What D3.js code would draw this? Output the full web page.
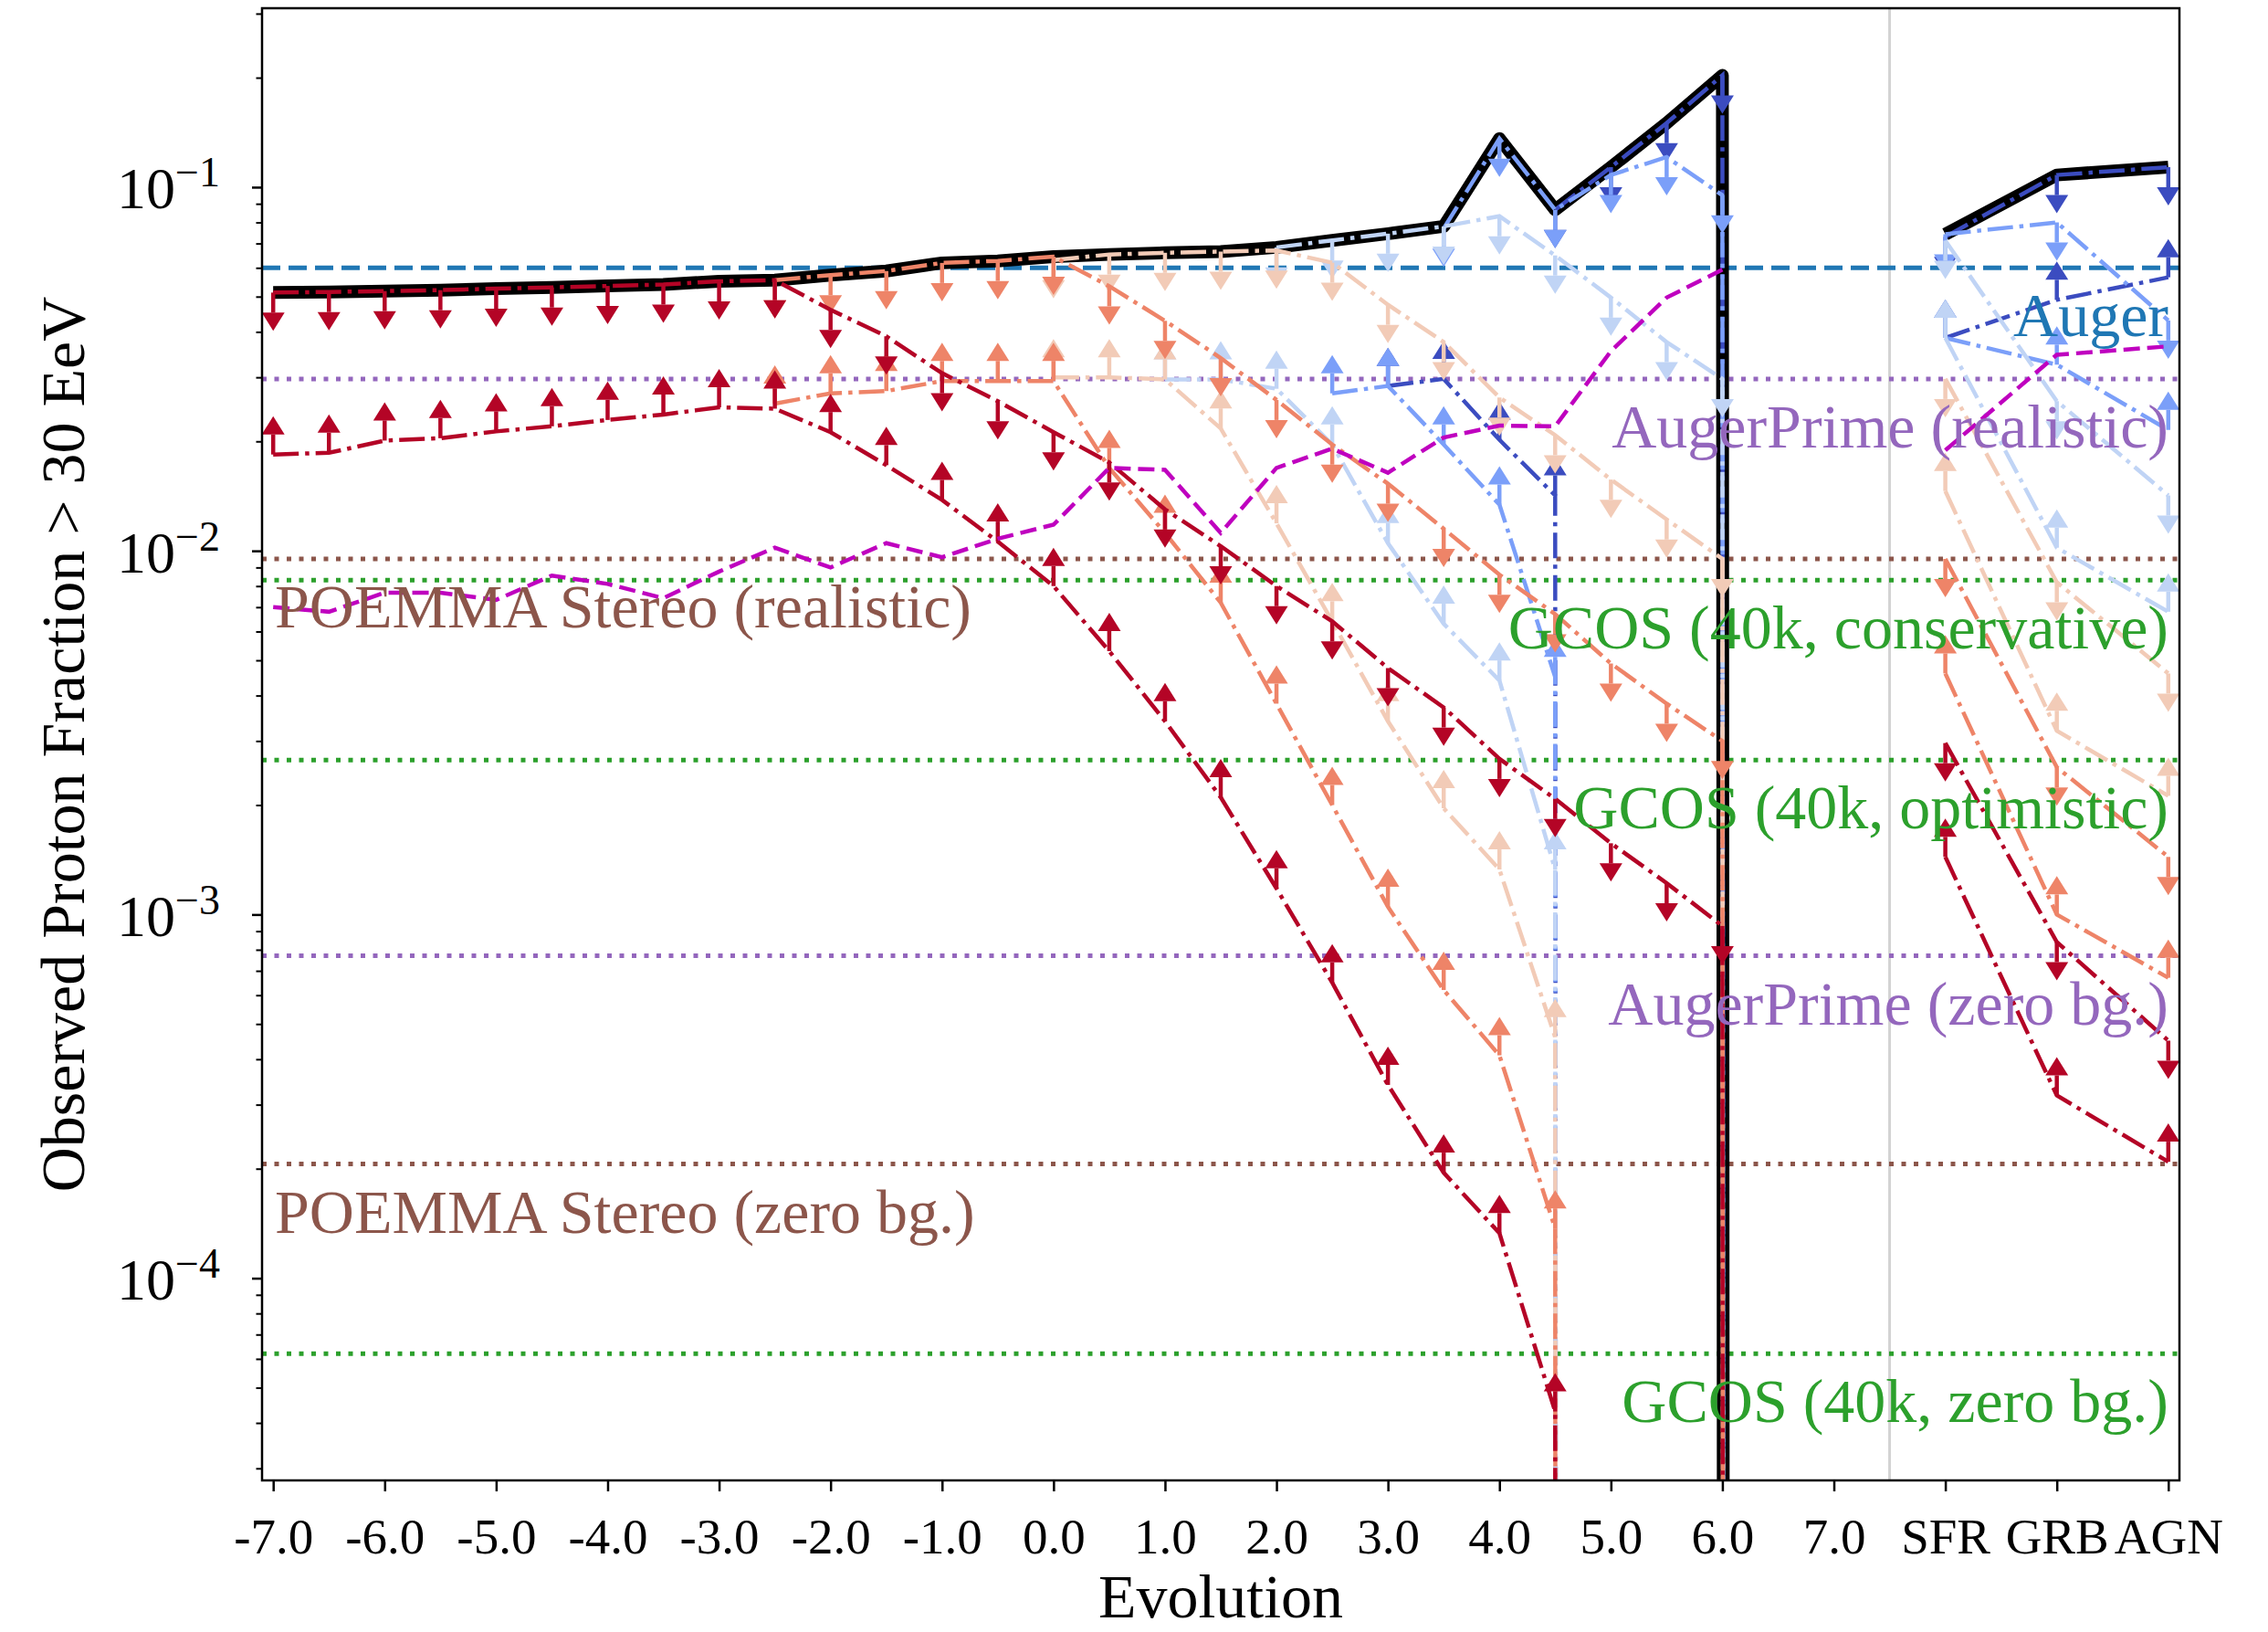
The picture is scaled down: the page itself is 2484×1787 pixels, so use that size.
<!DOCTYPE html>
<html>
<head>
<meta charset="utf-8">
<script src="https://cdn.jsdelivr.net/npm/d3@7"></script>
<style>
  html, body { margin: 0; padding: 0; background: #fff; }
  svg { display: block; font-family: "Liberation Serif", "DejaVu Serif", serif; }
</style>
</head>
<body>
<svg id="chart" width="2484" height="1787"></svg>
<script>
// ---- data ----
const evolution = [-7.0, -6.5, -6.0, -5.5, -5.0, -4.5, -4.0, -3.5, -3.0, -2.5, -2.0, -1.5, -1.0, -0.5, 0.0,
  0.5, 1.0, 1.5, 2.0, 2.5, 3.0, 3.5, 4.0, 4.5, 5.0, 5.5, 6.0, 6.5, 7.0];
const sources = ['SFR', 'GRB', 'AGN'];
const tickValues = [-7, -6, -5, -4, -3, -2, -1, 0, 1, 2, 3, 4, 5, 6, 7];
const tickLabels = ['-7.0', '-6.0', '-5.0', '-4.0', '-3.0', '-2.0', '-1.0', '0.0', '1.0', '2.0', '3.0', '4.0', '5.0', '6.0', '7.0'];

// upper limits (down arrows) / lower limits (up arrows), 0 = vanishes
const redUpper = [0.0513, 0.0515, 0.0518, 0.0521, 0.0526, 0.0530, 0.0535, 0.0540, 0.0551, 0.0555, 0.0460, 0.0389, 0.0308, 0.0258, 0.0212,
  0.0175, 0.0130, 0.0103, 0.0080, 0.0064, 0.00476, 0.00371, 0.00268, 0.00208, 0.00157, 0.00122, 0.00093, 0, 0];
const redLower = [0.0184, 0.0186, 0.0201, 0.0204, 0.0213, 0.0220, 0.0229, 0.0237, 0.0248, 0.0246, 0.0212, 0.0172, 0.0138, 0.0106, 0.0080,
  0.0053, 0.0034, 0.0021, 0.00118, 0.00065, 0.00034, 0.000195, 0.000133, 0.000043, 0, 0, 0, 0, 0];
const salmonUpper = [null, null, null, null, null, null, null, null, null, 0.0555, 0.0573, 0.0588, 0.0619, 0.0627, 0.0644,
  0.0534, 0.0429, 0.0339, 0.0260, 0.0196, 0.0153, 0.0115, 0.0086, 0.0067, 0.0049, 0.0038, 0.0030, 0, 0];
const salmonLower = [null, null, null, null, null, null, null, null, null, 0.0254, 0.0271, 0.0275, 0.0293, 0.0293, 0.0293,
  0.0169, 0.0112, 0.0072, 0.0038, 0.0020, 0.00105, 0.00062, 0.00041, 0.000137, 0, 0, 0, 0, 0];
const peachUpper = [null, null, null, null, null, null, null, null, null, null, null, null, null, null, 0.0630,
  0.0653, 0.0660, 0.0665, 0.0670, 0.0620, 0.0475, 0.0375, 0.0264, 0.0208, 0.0157, 0.0122, 0.0095, 0, 0];
const peachLower = [null, null, null, null, null, null, null, null, null, null, null, null, null, null, 0.0300,
  0.0300, 0.0296, 0.0217, 0.0119, 0.0064, 0.0034, 0.00196, 0.00133, 0.00046, 0, 0, 0, 0, 0];
const lightUpper = [null, null, null, null, null, null, null, null, null, null, null, null, null, null, null,
  null, null, null, 0.0683, 0.0714, 0.0745, 0.0780, 0.0832, 0.0649, 0.0497, 0.0375, 0.0297, 0, 0];
const lightLower = [null, null, null, null, null, null, null, null, null, null, null, null, null, null, null,
  null, 0.0296, 0.0296, 0.0279, 0.0196, 0.0105, 0.0063, 0.0044, 0.00133, 0, 0, 0, 0, 0];
const mediumUpper = [null, null, null, null, null, null, null, null, null, null, null, null, null, null, null,
  null, null, null, null, null, null, 0.0770, 0.1360, 0.0866, 0.1080, 0.1210, 0.0950, 0, 0];
const mediumLower = [null, null, null, null, null, null, null, null, null, null, null, null, null, null, null,
  null, null, null, null, 0.0271, 0.0284, 0.0196, 0.0134, 0.0045, 0, 0, 0, 0, 0];
const darkUpper = [null, null, null, null, null, null, null, null, null, null, null, null, null, null, null,
  null, null, null, null, null, null, null, null, 0.0866, 0.1135, 0.1500, 0.2030, 0, 0];
const darkLower = [null, null, null, null, null, null, null, null, null, null, null, null, null, null, null,
  null, null, null, null, null, 0.0284, 0.0297, 0.0202, 0.0142, 0, 0, 0, 0, 0];
const magentaLine = [0.0070, 0.0068, 0.00767, 0.00767, 0.00733, 0.00855, 0.00811, 0.00741, 0.00877, 0.0102, 0.0090, 0.0105, 0.0096, 0.0108, 0.0118,
  0.0169, 0.0167, 0.0112, 0.0169, 0.0191, 0.0164, 0.0205, 0.0221, 0.0220, 0.0354, 0.0497, 0.0593, null, null];

// SFR, GRB, AGN
const redUpperSrc = [0.00296, 0.00084, 0.00045];
const redLowerSrc = [0.00144, 0.000318, 0.000209];
const salmonUpperSrc = [0.0095, 0.00254, 0.00144];
const salmonLowerSrc = [0.0046, 0.0010, 0.00067];
const peachUpperSrc = [0.0297, 0.0082, 0.0046];
const peachLowerSrc = [0.0146, 0.0032, 0.00212];
const lightUpperSrc = [0.0713, 0.0258, 0.0142];
const lightLowerSrc = [0.0385, 0.0102, 0.0068];
const mediumUpperSrc = [0.0742, 0.0800, 0.0430];
const mediumLowerSrc = [0.0385, 0.0325, 0.0215];
const darkUpperSrc = [0.0730, 0.1080, 0.1135];
const darkLowerSrc = [0.0385, 0.0490, 0.0565];
const magentaSrc = [0.0189, 0.0346, 0.0365];

// experimental sensitivities
const refLabels = ['Auger', 'AugerPrime (realistic)', 'POEMMA Stereo (realistic)', 'GCOS (40k, conservative)',
  'GCOS (40k, optimistic)', 'AugerPrime (zero bg.)', 'POEMMA Stereo (zero bg.)', 'GCOS (40k, zero bg.)'];
const refValues = [0.060, 0.0297, 0.0095, 0.0083, 0.00266, 0.00077, 0.000206, 0.000062];

// ---- layout & style ----
const W = 2484, H = 1787;
const margin = { top: 9, right: 97, bottom: 166, left: 287 };
const width = W - margin.left - margin.right;
const height = H - margin.top - margin.bottom;
const sourceSlot = 8;     // SFR sits one unit right of 7.0
const separator = 7.5;

const expStyle = {
  Auger: { color: '#1f77b4', dash: '20 9', width: 5, left: false },
  AugerPrime: { color: '#9467bd', dash: '5 8.5', width: 5, left: false },
  POEMMA: { color: '#8c564b', dash: '5 8.5', width: 5, left: true },
  GCOS: { color: '#2ca02c', dash: '5 8.5', width: 5, left: false }
};

// drawn blue first, red last
const groups = [
  { color: '#3b4cc0', upper: darkUpper, lower: darkLower, upperSrc: darkUpperSrc, lowerSrc: darkLowerSrc },
  { color: '#7b9ff9', upper: mediumUpper, lower: mediumLower, upperSrc: mediumUpperSrc, lowerSrc: mediumLowerSrc },
  { color: '#c0d4f5', upper: lightUpper, lower: lightLower, upperSrc: lightUpperSrc, lowerSrc: lightLowerSrc },
  { color: '#f2cbb7', upper: peachUpper, lower: peachLower, upperSrc: peachUpperSrc, lowerSrc: peachLowerSrc },
  { color: '#ee8468', upper: salmonUpper, lower: salmonLower, upperSrc: salmonUpperSrc, lowerSrc: salmonLowerSrc },
  { color: '#b40426', upper: redUpper, lower: redLower, upperSrc: redUpperSrc, lowerSrc: redLowerSrc }
];

const svg = d3.select('#chart');
const g = svg.append('g').attr('transform', `translate(${margin.left},${margin.top})`);

g.append('clipPath').attr('id', 'plot-clip')
  .append('rect').attr('width', width).attr('height', height);

// Scales
const x = d3.scaleLinear().domain([-7.1, 10.1]).range([0, width]);
const y = d3.scaleLog().domain([Math.pow(10, -4.556), Math.pow(10, -0.508)]).range([height, 0]);

const line = d3.line()
  .defined(d => d.v !== null)
  .x(d => d.px)
  .y(d => d.v > 0 ? y(d.v) : height + 1e5);

const mainPts = arr => evolution.map((e, i) => ({ px: x(e), v: arr[i] }));
const srcPts = arr => sources.map((s, i) => ({ px: x(sourceSlot + i), v: arr[i] }));

const plot = g.append('g').attr('clip-path', 'url(#plot-clip)');

// separator
plot.append('line')
  .attr('x1', x(separator)).attr('x2', x(separator))
  .attr('y1', 0).attr('y2', height)
  .attr('stroke', '#d3d3d3').attr('stroke-width', 3);

// reference lines + labels
refLabels.forEach((label, i) => {
  const st = expStyle[label.split(' ')[0]];
  const yy = y(refValues[i]);
  plot.append('line')
    .attr('x1', 0).attr('x2', width).attr('y1', yy).attr('y2', yy)
    .attr('stroke', st.color).attr('stroke-width', st.width)
    .attr('stroke-dasharray', st.dash);
  g.append('text')
    .attr('x', st.left ? 14 : width - 12)
    .attr('y', yy + 75)
    .attr('text-anchor', st.left ? 'start' : 'end')
    .attr('font-size', 68)
    .attr('fill', st.color)
    .text(label);
});

// envelope of the upper limits
const envelope = evolution.map((e, i) => {
  const vals = groups.map(gr => gr.upper[i]).filter(v => v !== null);
  return vals.length ? d3.max(vals) : null;
});
const envelopeSrc = sources.map((s, i) => d3.max(groups, gr => gr.upperSrc[i]));

[mainPts(envelope), srcPts(envelopeSrc)].forEach(pts => {
  plot.append('path').datum(pts)
    .attr('d', line)
    .attr('fill', 'none')
    .attr('stroke', '#000')
    .attr('stroke-width', 14)
    .attr('stroke-linejoin', 'round');
});

// limit arrows
const stemLen = 22, headLen = 20, headW = 25;
function drawArrows(pts, color, dir) {
  const sel = plot.append('g');
  pts.filter(d => d.v !== null && d.v > 0).forEach(d => {
    const y0 = y(d.v);
    const yb = y0 + dir * stemLen;
    const yt = yb + dir * headLen;
    sel.append('line')
      .attr('x1', d.px).attr('x2', d.px).attr('y1', y0).attr('y2', yb)
      .attr('stroke', color).attr('stroke-width', 4.5);
    sel.append('path')
      .attr('d', `M${d.px - headW / 2},${yb}L${d.px + headW / 2},${yb}L${d.px},${yt}Z`)
      .attr('fill', color);
  });
}

function drawSeries(pts, color, dir) {
  plot.append('path').datum(pts)
    .attr('d', line)
    .attr('fill', 'none')
    .attr('stroke', color)
    .attr('stroke-width', 4.5)
    .attr('stroke-dasharray', '28 7 4.5 7');
  drawArrows(pts, color, dir);
}

groups.forEach(gr => {
  drawSeries(mainPts(gr.upper), gr.color, 1);
  drawSeries(srcPts(gr.upperSrc), gr.color, 1);
  drawSeries(mainPts(gr.lower), gr.color, -1);
  drawSeries(srcPts(gr.lowerSrc), gr.color, -1);
});

[mainPts(magentaLine), srcPts(magentaSrc)].forEach(pts => {
  plot.append('path').datum(pts)
    .attr('d', line)
    .attr('fill', 'none')
    .attr('stroke', '#bf00bf')
    .attr('stroke-width', 4.5)
    .attr('stroke-dasharray', '18 8');
});

// ---- axes ----
const xAxis = d3.axisBottom(x)
  .tickValues(tickValues.concat(sources.map((s, i) => sourceSlot + i)))
  .tickFormat((d, i) => tickLabels.concat(sources)[i])
  .tickSize(12)
  .tickPadding(29);

g.append('g')
  .attr('transform', `translate(0,${height})`)
  .call(xAxis)
  .call(a => a.select('.domain').remove())
  .call(a => a.selectAll('line').attr('stroke-width', 2.5))
  .call(a => a.selectAll('text').attr('font-size', 55).attr('fill', '#000')
    .attr('font-family', '"Liberation Serif", serif'));

const decades = [1e-4, 1e-3, 1e-2, 1e-1];
const minor = [];
[1e-5, 1e-4, 1e-3, 1e-2, 1e-1].forEach(dec => {
  [2, 3, 4, 5, 6, 7, 8, 9].forEach(m => {
    const v = m * dec;
    if (v > y.domain()[0] && v < y.domain()[1]) minor.push(v);
  });
});

g.append('g')
  .call(d3.axisLeft(y).tickValues(minor).tickSize(6.5).tickFormat(''))
  .call(a => a.select('.domain').remove())
  .call(a => a.selectAll('line').attr('stroke-width', 2));

const yAxis = g.append('g')
  .call(d3.axisLeft(y).tickValues(decades).tickSize(11).tickFormat(''))
  .call(a => a.select('.domain').remove())
  .call(a => a.selectAll('line').attr('stroke-width', 2.5));

yAxis.selectAll('.tick').each(function (d) {
  const t = d3.select(this).append('text')
    .attr('x', -46)
    .attr('y', 23)
    .attr('text-anchor', 'end')
    .attr('fill', '#000')
    .attr('font-family', '"Liberation Serif", serif');
  t.append('tspan').attr('font-size', 64).text('10');
  t.append('tspan').attr('font-size', 46).attr('dy', -24)
    .text('\u2212' + Math.round(-Math.log10(d)));
});

// frame
g.append('rect')
  .attr('width', width).attr('height', height)
  .attr('fill', 'none').attr('stroke', '#000').attr('stroke-width', 2.5);

// axis titles
svg.append('text')
  .attr('x', margin.left + width / 2)
  .attr('y', 1771)
  .attr('text-anchor', 'middle')
  .attr('font-size', 68)
  .text('Evolution');

svg.append('text')
  .attr('transform', `translate(92,${margin.top + height / 2}) rotate(-90)`)
  .attr('text-anchor', 'middle')
  .attr('font-size', 68)
  .text('Observed Proton Fraction > 30 EeV');
</script>
</body>
</html>
